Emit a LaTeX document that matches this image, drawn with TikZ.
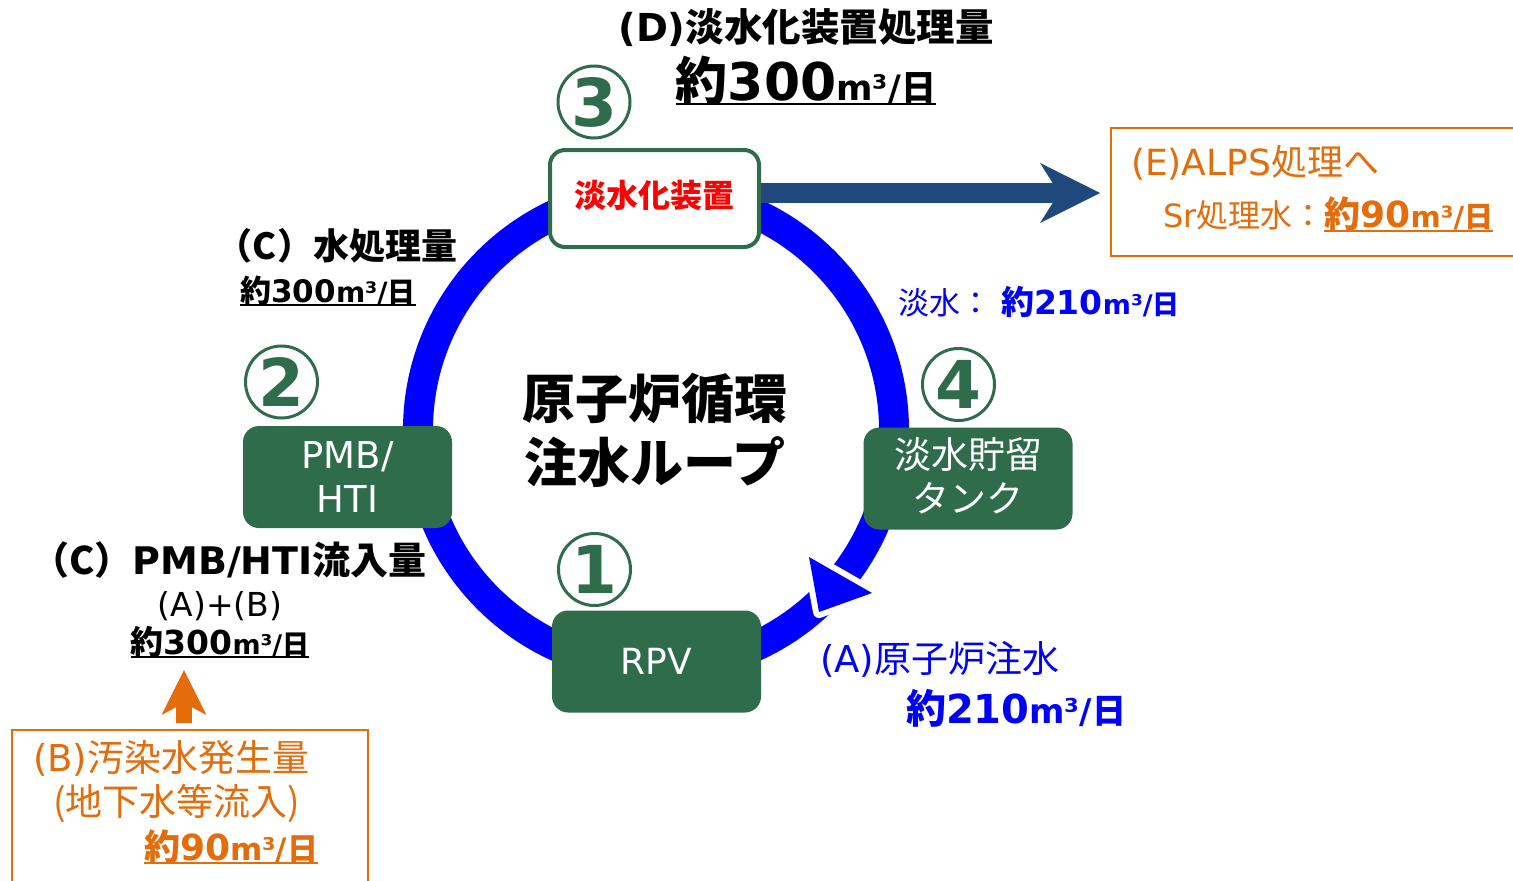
\documentclass[tikz,border=0pt]{standalone}
\usepackage{fontspec}
\setmainfont{DejaVu Sans}
\newfontfamily\jp{Noto Sans CJK JP}
\usetikzlibrary{arrows.meta}
\definecolor{grn}{RGB}{47,108,76}
\definecolor{dblue}{RGB}{31,73,125}
\definecolor{org}{RGB}{228,108,10}
\definecolor{pblue}{RGB}{0,0,255}
\newcommand\J[1]{{\jp #1}}
\newcommand\fs[1]{\fontsize{#1pt}{#1pt}\selectfont}
\newcommand\un[1]{{\fs{#1}m³/\J{日}}}
\newcommand\up[1]{\raisebox{3pt}[\height][\depth]{#1}}
\begin{document}
\begin{tikzpicture}[x=1pt,y=-1pt,
 txt/.style={inner sep=0pt, outer sep=0pt},
 gbox/.style={rectangle, rounded corners=16pt, fill=grn, text=white, minimum width=209pt, minimum height=102pt, align=center, inner sep=0pt},
 num/.style={circle, draw=grn, line width=3pt, minimum size=72pt, inner sep=0pt, text=grn, font=\bfseries\fs{66}},
 ul/.style={line width=2.5pt},
 obox/.style={rectangle, draw=org, line width=2pt, inner sep=0pt}
]
\clip (0,0) rectangle (1513,881);
\fill[white] (0,0) rectangle (1513,881);

% ring
\node[circle, draw=pblue, line width=30pt, minimum size=476pt, inner sep=0pt] (ring) at (656,430) {};
\filldraw[white, line width=12pt, line join=round] (809,557) -- (872,593) -- (819,612) -- cycle;
\fill[pblue] (809,557) -- (872,593) -- (819,612) -- cycle;

% dark arrow to ALPS
\coordinate (etip) at (1100,193);
\draw[dblue, line width=20pt, -{Stealth[length=60pt, width=60pt, inset=19pt, line width=0pt]}] (758,193) -- (etip);

% boxes
\node[rectangle, rounded corners=15pt, draw=grn, line width=4pt, fill=white, minimum width=209pt, minimum height=97pt, text=red, font=\bfseries\fs{32}\jp, inner sep=0pt] (desal) at (654.5,198.5) {\up{淡水化装置}};
\node[gbox, font={\fontsize{37pt}{44pt}\selectfont}] (pmb) at (347.5,477) {PMB/\\HTI};
\node[gbox, font={\jp\fontsize{37pt}{44pt}\selectfont}] (tank) at (968,478.5) {\up{淡水貯留}\\\up{タンク}};
\node[gbox, font=\fs{36}] (rpv) at (656.5,661.5) {RPV};

% numbers
\node[num] (n3) at (594,102) {3};
\node[num] (n2) at (281.5,382) {2};
\node[num] (n4) at (958.5,384.5) {4};
\node[num] (n1) at (594.5,569.5) {1};

% orange boxes
\node[obox, minimum width=420pt, minimum height=128pt] (boxE) at (1321,192) {};
\node[obox, minimum width=356pt, minimum height=170pt] (boxB) at (190,815) {};
\coordinate (bstart) at (184,723);
\coordinate (btip) at (184,670);
\draw[org, line width=16pt, -{Stealth[length=45pt, width=45pt, inset=12pt, line width=0pt]}] (bstart) -- (btip);

% texts
\node[txt, anchor=base, font=\bfseries\fs{38.5}] (dtitle) at (806,41) {(D)\J{淡水化装置処理量}};
\node[txt, anchor=base, font=\bfseries] (damt) at (806,100) {\fs{52}\J{約}300\un{35}};
\draw[ul] ([yshift=-4pt]damt.base west) -- ([yshift=-4pt]damt.base east);

\node[txt, anchor=base, font=\bfseries\fs{36}\jp] (cwt) at (337,259) {（C）水処理量};
\node[txt, anchor=base, font=\bfseries] (camt) at (328,302) {\fs{31}\J{約}300\un{28}};
\draw[ul] ([yshift=-3pt]camt.base west) -- ([yshift=-3pt]camt.base east);

\node[txt, font={\bfseries\jp\fontsize{53pt}{64pt}\selectfont}, align=center] (loop) at (655,430) {原子炉循環\\注水ループ};

\node[txt, anchor=base west, text=pblue] (fw) at (898,314) {\fs{31}\J{淡水：}\hspace{10pt}\bfseries\fs{33}\J{約}210\un{27}};

\node[txt, anchor=base west, text=pblue, font=\fs{37}] (ainj) at (820,672) {(A)\J{原子炉注水}};
\node[txt, anchor=base west, text=pblue, font=\bfseries] (aamt) at (906,723) {\fs{40}\J{約}210\un{34}};

\node[txt, anchor=base west, text=org, font=\fs{36}] (etitle) at (1131,175) {(E)ALPS\J{処理へ}};
\node[txt, anchor=base west, text=org, font=\fs{32}] (sr) at (1163,227) {Sr\J{処理水：}};
\node[txt, anchor=base west, text=org, font=\bfseries] (sramt) at (sr.base east) {\fs{36}\J{約}90\un{29}};
\draw[ul, org] ([yshift=-4pt]sramt.base west) -- ([yshift=-4pt]sramt.base east);

\node[txt, anchor=base, font=\bfseries\fs{38}] (cin) at (229,574) {\J{（C）}PMB/HTI\J{流入量}};
\node[txt, anchor=base, font=\fs{33}] (ab) at (220,616) {(A)+(B)};
\node[txt, anchor=base, font=\bfseries] (cinamt) at (220,654) {\fs{33}\J{約}300\un{27}};
\draw[ul] ([yshift=-3pt]cinamt.base west) -- ([yshift=-3pt]cinamt.base east);

\node[txt, anchor=base west, text=org, font=\fs{37}] (bgen) at (33,771) {(B)\J{汚染水発生量}};
\node[txt, anchor=base west, text=org, font=\fs{37}\jp] (bgw) at (53,815) {(地下水等流入)};
\node[txt, anchor=base west, text=org, font=\bfseries] (bamt) at (144,860) {\fs{36}\J{約}90\un{31}};
\draw[ul, org] ([yshift=-3pt]bamt.base west) -- ([yshift=-3pt]bamt.base east);
\end{tikzpicture}
\end{document}
